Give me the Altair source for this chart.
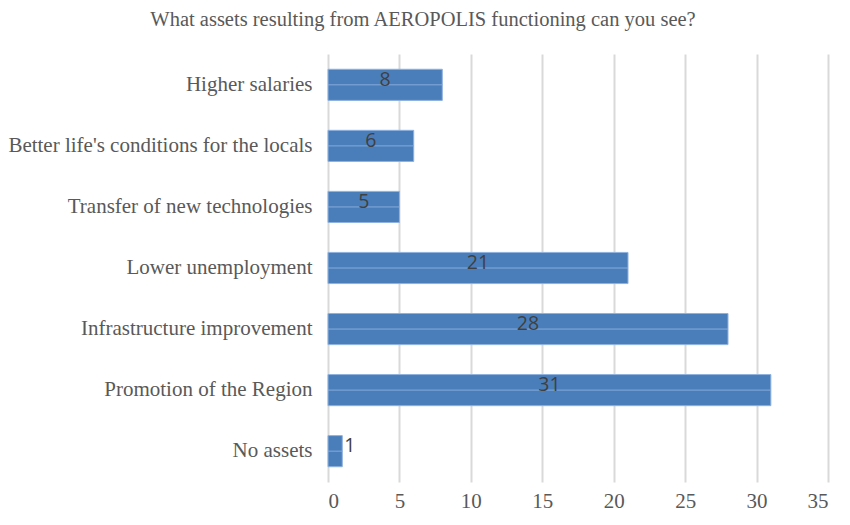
import altair as alt
import pandas as pd

categories = [
    "Higher salaries",
    "Better life's conditions for the locals",
    "Transfer of new technologies",
    "Lower unemployment",
    "Infrastructure improvement",
    "Promotion of the Region",
    "No assets",
]
values = [8, 6, 5, 21, 28, 31, 1]
x_ticks = [0, 5, 10, 15, 20, 25, 30, 35]

df = pd.DataFrame({"category": categories, "value": values})

serif = "Liberation Serif"
sans = "Open Sans"

y_enc = alt.Y("category:N", sort=categories, title=None,
              scale=alt.Scale(paddingInner=0.49, paddingOuter=0.25))
x_scale = alt.Scale(domain=[0, 35], nice=False)

bars = alt.Chart(df).mark_bar(color="#4a7ebb", stroke="#8fb2de", strokeWidth=1).encode(
    y=y_enc,
    x=alt.X("value:Q", scale=x_scale, title=None,
            axis=alt.Axis(values=x_ticks, grid=True, gridColor="#d9d9d9", gridWidth=2,
                          domain=False, ticks=False, labelFont=serif, labelFontSize=21,
                          labelColor="#595959", labelPadding=8)),
)

mid = alt.Chart(df).mark_rule(color="#86abdb", strokeWidth=1).encode(
    y=alt.Y("category:N", sort=categories),
    x=alt.X("zero:Q", scale=x_scale),
    x2="value:Q",
).transform_calculate(zero="0")

inside = alt.Chart(df).transform_filter("datum.value >= 3").transform_calculate(
    mid="datum.value / 2"
).mark_text(font=sans, fontSize=19.5, color="#404040", align="center",
            baseline="alphabetic", dy=1).encode(
    y=alt.Y("category:N", sort=categories),
    x=alt.X("mid:Q", scale=x_scale),
    text="value:Q",
)

outside = alt.Chart(df).transform_filter("datum.value < 3").mark_text(
    font=sans, fontSize=19.5, color="#404040", align="left", dx=2,
    baseline="alphabetic", dy=1
).encode(
    y=alt.Y("category:N", sort=categories),
    x=alt.X("value:Q", scale=x_scale),
    text="value:Q",
)

chart = alt.layer(bars, mid, inside, outside).resolve_scale(y="shared").properties(
    width=500,
    height=428,
    autosize=alt.AutoSizeParams(type="none"),
    padding={"left": 320, "top": 46, "right": 14, "bottom": 35},
    title=alt.TitleParams(
        "What assets resulting from AEROPOLIS functioning can you see?",
        font=serif, fontSize=20.5, fontWeight="normal", color="#595959",
        anchor="middle", dx=-155, offset=24,
    ),
).configure_view(stroke=None).configure_axisY(
    domain=False, ticks=False, labelFont=serif, labelFontSize=21,
    labelColor="#595959", labelPadding=16, grid=False, labelLimit=0,
)

chart.save("out.html", embed_options={"renderer": "svg", "actions": False})
